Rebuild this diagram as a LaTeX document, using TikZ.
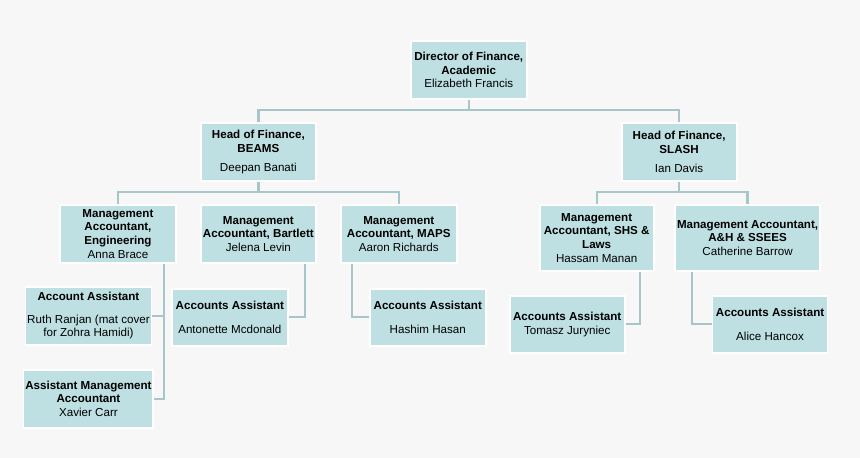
\documentclass[tikz,border=0pt]{standalone}
\usepackage{fontspec}
\setmainfont{Liberation Sans}
\usetikzlibrary{calc}
\definecolor{boxfill}{HTML}{BEE0E3}
\definecolor{linkcol}{HTML}{A7C6CA}
\definecolor{bgcol}{HTML}{F7F7F7}
\tikzset{box/.style = {fill=boxfill, draw=white, line width=1pt, align=center,
                       inner sep=1pt, font=\fontsize{6.6}{7.8}\selectfont}}
\tikzset{link/.style = {draw=linkcol, line width=1.3pt}}
\newcommand{\orgbox}[6]{% name, x1, y1, x2, y2, text
  \node [box, minimum width={(#4-#2)*0.02cm}, minimum height={(#5-#3)*0.02cm}]
    (#1) at ({(#2+#4)*0.01}, {-(#3+#5)*0.01}) {#6};}
\begin{document}
\begin{tikzpicture}
      \fill [bgcol] (0, 0) rectangle (17.2, -9.16);
      % links
      \coordinate (topbar) at (0, -2.2);
      \coordinate (lbar) at (0, -3.84);
      \coordinate (engA) at (3.28, -6.32);
      \coordinate (engB) at (3.28, -7.98);
      \coordinate (barA) at (6.1, -6.34);
      \coordinate (mapA) at (7.04, -6.34);
      \coordinate (shsA) at (12.8, -6.48);
      \coordinate (ahA) at (13.84, -6.48);
      \orgbox{dir}{411}{41}{527}{99}{\textbf{Director of Finance,}\\\textbf{Academic}\\Elizabeth Francis}
      \orgbox{beams}{201}{123}{316}{181}{\textbf{Head of Finance,}\\\textbf{BEAMS}\\[3pt]Deepan Banati}
      \orgbox{slash}{622}{123}{737}{181}{\textbf{Head of Finance,}\\\textbf{SLASH}\\[3pt]Ian Davis}
      \orgbox{eng}{60}{205}{176}{263}{\textbf{Management}\\\textbf{Accountant,}\\\textbf{Engineering}\\Anna Brace}
      \orgbox{bart}{201}{205}{316}{263}{\textbf{Management}\\\textbf{Accountant, Bartlett}\\Jelena Levin}
      \orgbox{maps}{341}{205}{457}{263}{\textbf{Management}\\\textbf{Accountant, MAPS}\\Aaron Richards}
      \orgbox{shs}{540}{205}{654}{271}{\textbf{Management}\\\textbf{Accountant, SHS \&}\\\textbf{Laws}\\Hassam Manan}
      \orgbox{ah}{678}{205}{818}{271}{\textbf{Management Accountant,}\\\textbf{A\&H \& SSEES}\\Catherine Barrow}
      \orgbox{ruth}{30}{287}{147}{345}{\textbf{Account Assistant}\\[5pt]Ruth Ranjan (mat cover\\for Zohra Hamidi)}
      \orgbox{xav}{30}{370}{147}{428}{\textbf{Assistant Management}\\\textbf{Accountant}\\Xavier Carr}
      \orgbox{anto}{172}{289}{288}{346}{\textbf{Accounts Assistant}\\[6pt]Antonette Mcdonald}
      \orgbox{hash}{370}{289}{486}{346}{\textbf{Accounts Assistant}\\[6pt]Hashim Hasan}
      \orgbox{tom}{510}{296}{625}{353}{\textbf{Accounts Assistant}\\Tomasz Juryniec}
      \orgbox{alice}{713}{296}{828}{353}{\textbf{Accounts Assistant}\\[6pt]Alice Hancox}
      \path [link] (dir) -- (dir|-topbar) (beams.north) |- (dir|-topbar) -| (slash.north);
      \path [link] (beams) -- (beams|-lbar) (eng.north) |- (beams|-lbar) -| (maps.north);
      \path [link] (slash) -- (slash|-lbar) (shs.north) |- (slash|-lbar) -| (ah.north);
      \path [link] (engA|-eng.south) -- (engB|-xav) -- (xav.east) (engA|-ruth) -- (ruth.east);
      \path [link] (barA|-bart.south) |- (anto.east);
      \path [link] (mapA|-maps.south) |- (hash.west);
      \path [link] (shsA|-shs.south) |- (tom.east);
      \path [link] (ahA|-ah.south) |- (alice.west);
\end{tikzpicture}
\end{document}
